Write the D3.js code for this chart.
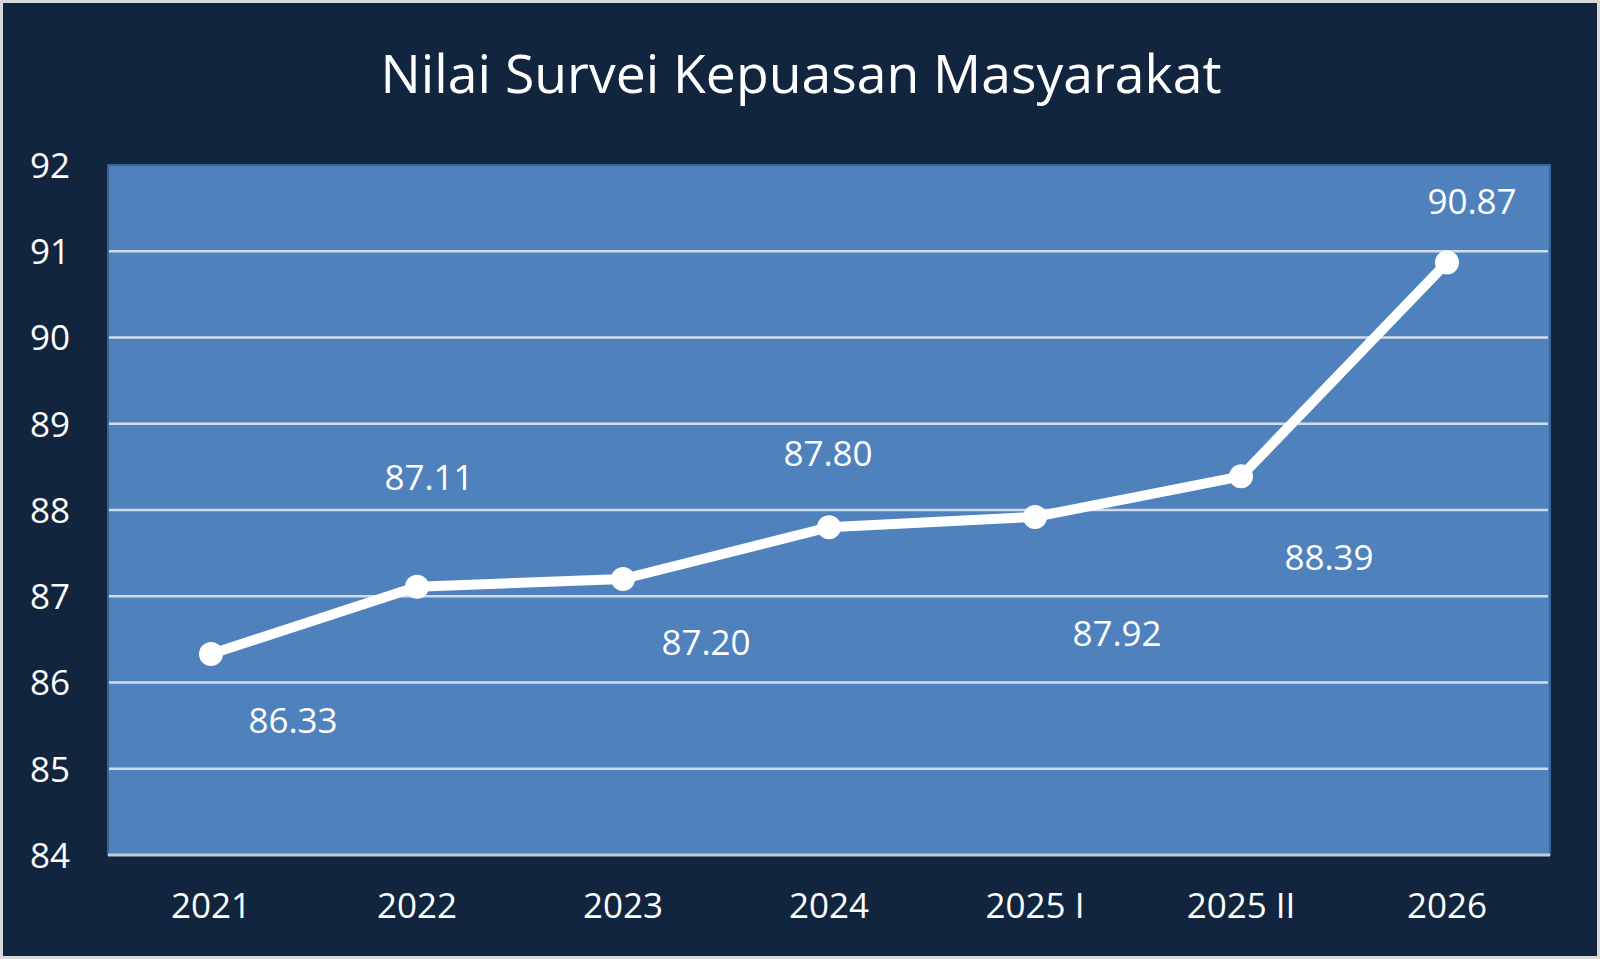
<!DOCTYPE html>
<html><head><meta charset="utf-8">
<script src="https://cdn.jsdelivr.net/npm/d3@7"></script>
<style>html,body{margin:0;padding:0;background:#d9d9d9;overflow:hidden}</style>
</head><body>
<svg id="chart" width="1600" height="959"></svg>
<script>
const categories = ["2021","2022","2023","2024","2025 I","2025 II","2026"];
const values = [86.33, 87.11, 87.20, 87.80, 87.92, 88.39, 90.87];
const yTicks = [84,85,86,87,88,89,90,91,92];
const title = "Nilai Survei Kepuasan Masyarakat";
// label offsets (px) from each point, as placed in the reference
const labelDx = [82, 12, 83, -1, 82, 88, 25];
const labelDy = [66, -109, 63, -74, 117, 81, -61];

const W = 1600, H = 959;
const plot = {left:108, right:1550, top:165, bottom:855};
const font = "'Open Sans', 'Noto Sans', sans-serif";

const svg = d3.select("#chart");
svg.append("rect").attr("x",3).attr("y",3).attr("width",W-6).attr("height",H-6).attr("fill","#12253f");

svg.append("text").attr("x",801).attr("y",93).attr("text-anchor","middle")
  .attr("fill","#ffffff").attr("font-family",font).attr("font-size",53)
  .attr("textLength",841).attr("lengthAdjust","spacingAndGlyphs").text(title);

const x = d3.scaleBand().domain(categories).range([plot.left, plot.right]);
const y = d3.scaleLinear().domain([84,92]).range([plot.bottom, plot.top]);

svg.append("rect").attr("x",plot.left).attr("y",plot.top)
  .attr("width",plot.right-plot.left).attr("height",plot.bottom-plot.top)
  .attr("fill","#4f81bd").attr("stroke","#3a6398").attr("stroke-width",2);

// gridlines
svg.append("g").selectAll("line").data(yTicks.filter(t=>t>84 && t<92)).join("line")
  .attr("x1",plot.left+1).attr("x2",plot.right-2)
  .attr("y1",d=>y(d)).attr("y2",d=>y(d))
  .attr("stroke","#cfdcec").attr("stroke-width",2.5);

// x axis line
svg.append("line").attr("x1",plot.left).attr("x2",plot.right)
  .attr("y1",plot.bottom).attr("y2",plot.bottom)
  .attr("stroke","#c3cbd6").attr("stroke-width",3);

// y axis
const yAxis = svg.append("g").attr("transform",`translate(${plot.left},0)`)
  .call(d3.axisLeft(y).tickValues(yTicks).tickSize(0).tickPadding(38).tickFormat(d3.format("d")));
yAxis.select(".domain").remove();
yAxis.selectAll("text").attr("fill","#ffffff").attr("font-family",font).attr("font-size",35)
  .attr("dy","0.35em");

// x axis
const xAxis = svg.append("g").attr("transform",`translate(0,${plot.bottom})`)
  .call(d3.axisBottom(x).tickSize(0).tickPadding(38));
xAxis.select(".domain").remove();
xAxis.selectAll("text").attr("fill","#ffffff").attr("font-family",font).attr("font-size",35)
  .attr("dy","0.71em");

const cx = d => x(d) + x.bandwidth()/2;
const pts = categories.map((c,i)=>({c, v:values[i], i}));

svg.append("path").datum(pts)
  .attr("d", d3.line().x(d=>cx(d.c)).y(d=>y(d.v)))
  .attr("fill","none").attr("stroke","#ffffff").attr("stroke-width",10)
  .attr("stroke-linejoin","round").attr("stroke-linecap","round");

svg.append("g").selectAll("circle").data(pts).join("circle")
  .attr("cx",d=>cx(d.c)).attr("cy",d=>y(d.v)).attr("r",12).attr("fill","#ffffff");

svg.append("g").selectAll("text").data(pts).join("text")
  .attr("x",d=>cx(d.c)+labelDx[d.i])
  .attr("y",d=>y(d.v)+labelDy[d.i]+12.5)
  .attr("text-anchor","middle").attr("fill","#ffffff")
  .attr("font-family",font).attr("font-size",35)
  .text(d=>d.v.toFixed(2));
</script>
</body></html>
